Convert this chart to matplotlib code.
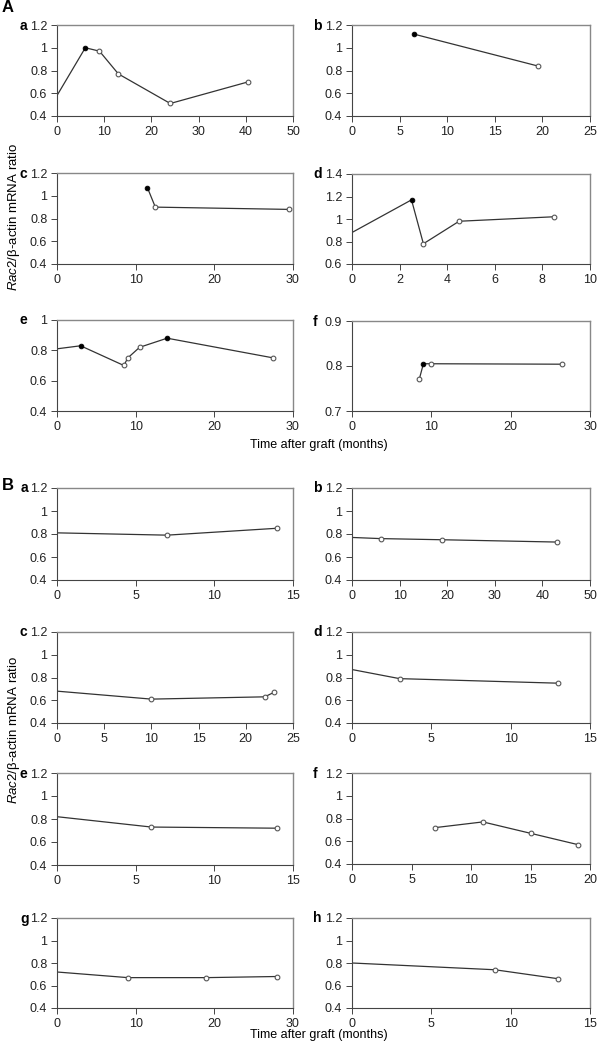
import matplotlib
matplotlib.use('Agg')
import matplotlib.pyplot as plt

plt.rcParams['font.family'] = ['Liberation Sans', 'DejaVu Sans']
plt.rcParams['font.size'] = 9
plt.rcParams['mathtext.fontset'] = 'custom'
plt.rcParams['mathtext.it'] = 'Liberation Sans:italic'
plt.rcParams['mathtext.rm'] = 'Liberation Sans'

W, H = 599, 1049

# ---- data ----
# panel A: filled = black markers; the point at x=0 is drawn without a marker
A_a_x = [0, 6, 9, 13, 24, 40.5]
A_a_y = [0.58, 1.0, 0.97, 0.77, 0.51, 0.70]
A_a_filled = [6]

A_b_x = [6.5, 19.5]
A_b_y = [1.12, 0.84]
A_b_filled = [6.5]

A_c_x = [11.5, 12.5, 29.5]
A_c_y = [1.07, 0.90, 0.88]
A_c_filled = [11.5]

A_d_x = [0, 2.5, 3, 4.5, 8.5]
A_d_y = [0.88, 1.17, 0.78, 0.98, 1.02]
A_d_filled = [2.5]

A_e_x = [0, 3, 8.5, 9, 10.5, 14, 27.5]
A_e_y = [0.81, 0.83, 0.70, 0.75, 0.82, 0.88, 0.75]
A_e_filled = [3, 14]

A_f_x = [8.5, 9, 10, 26.5]
A_f_y = [0.772, 0.805, 0.805, 0.804]
A_f_filled = [9]

B_a_x = [0, 7, 14]
B_a_y = [0.81, 0.79, 0.85]
B_b_x = [0, 6, 19, 43]
B_b_y = [0.77, 0.76, 0.75, 0.73]
B_c_x = [0, 10, 22, 23]
B_c_y = [0.68, 0.61, 0.63, 0.67]
B_d_x = [0, 3, 13]
B_d_y = [0.87, 0.79, 0.75]
B_e_x = [0, 6, 14]
B_e_y = [0.82, 0.73, 0.72]
B_f_x = [7, 11, 15, 19]
B_f_y = [0.72, 0.77, 0.67, 0.57]
B_g_x = [0, 9, 19, 28]
B_g_y = [0.72, 0.67, 0.67, 0.68]
B_h_x = [0, 9, 13]
B_h_y = [0.80, 0.74, 0.66]

fig = plt.figure(figsize=(W / 100, H / 100), dpi=100)


def add_ax(x0, y0, x1, y1):
    return fig.add_axes([x0 / W, 1 - y1 / H, (x1 - x0) / W, (y1 - y0) / H])


def fmt(v):
    return ('%.1f' % v).rstrip('0').rstrip('.')


def panel(box, x, y, filled, xlim, xticks, ylim, yticks, letter, lx):
    ax = add_ax(*box)
    ax.plot(x, y, color='#333333', lw=0.9, zorder=2)
    for xi, yi in zip(x, y):
        if xi == 0:
            continue
        if xi in filled:
            ax.plot(xi, yi, 'o', ms=3.4, mfc='black', mec='black', mew=0.6, zorder=3)
        else:
            ax.plot(xi, yi, 'o', ms=3.4, mfc='white', mec='#555555', mew=0.8, zorder=3)
    ax.set_xlim(*xlim)
    ax.set_ylim(*ylim)
    ax.set_xticks(xticks)
    ax.set_xticklabels([fmt(t) for t in xticks])
    ax.set_yticks(yticks)
    ax.set_yticklabels([fmt(t) for t in yticks])
    for s in ['top', 'right']:
        ax.spines[s].set_color('#888888')
        ax.spines[s].set_linewidth(1.0)
    for s in ['left', 'bottom']:
        ax.spines[s].set_color('#444444')
        ax.spines[s].set_linewidth(0.8)
    ax.tick_params(direction='out', length=4, width=0.7, colors='#444444',
                   labelcolor='#222222', labelsize=9, pad=3)
    fig.text(lx / W, 1 - (box[1] + 0.5) / H, letter, fontsize=10, fontweight='bold',
             ha='left', va='center')
    return ax


L = (57, 293)
R = (352, 590)
yl_A = [0.4, 0.6, 0.8, 1.0, 1.2]

# panel A rows
panel((L[0], 25, L[1], 116), A_a_x, A_a_y, A_a_filled, (0, 50), [0, 10, 20, 30, 40, 50],
      (0.4, 1.2), yl_A, 'a', 20)
panel((R[0], 25, R[1], 116), A_b_x, A_b_y, A_b_filled, (0, 25), [0, 5, 10, 15, 20, 25],
      (0.4, 1.2), yl_A, 'b', 313)
panel((L[0], 173, L[1], 264), A_c_x, A_c_y, A_c_filled, (0, 30), [0, 10, 20, 30],
      (0.4, 1.2), yl_A, 'c', 20)
panel((R[0], 174, R[1], 264), A_d_x, A_d_y, A_d_filled, (0, 10), [0, 2, 4, 6, 8, 10],
      (0.6, 1.4), [0.6, 0.8, 1.0, 1.2, 1.4], 'd', 313)
panel((L[0], 320, L[1], 411), A_e_x, A_e_y, A_e_filled, (0, 30), [0, 10, 20, 30],
      (0.4, 1.0), [0.4, 0.6, 0.8, 1.0], 'e', 20)
panel((R[0], 321, R[1], 411), A_f_x, A_f_y, A_f_filled, (0, 30), [0, 10, 20, 30],
      (0.7, 0.9), [0.7, 0.8, 0.9], 'f', 313)

# panel B rows
panel((L[0], 488, L[1], 580), B_a_x, B_a_y, [], (0, 15), [0, 5, 10, 15],
      (0.4, 1.2), yl_A, 'a', 21)
panel((R[0], 488, R[1], 580), B_b_x, B_b_y, [], (0, 50), [0, 10, 20, 30, 40, 50],
      (0.4, 1.2), yl_A, 'b', 313)
panel((L[0], 632, L[1], 723), B_c_x, B_c_y, [], (0, 25), [0, 5, 10, 15, 20, 25],
      (0.4, 1.2), yl_A, 'c', 20)
panel((R[0], 632, R[1], 723), B_d_x, B_d_y, [], (0, 15), [0, 5, 10, 15],
      (0.4, 1.2), yl_A, 'd', 313)
panel((L[0], 773, L[1], 865), B_e_x, B_e_y, [], (0, 15), [0, 5, 10, 15],
      (0.4, 1.2), yl_A, 'e', 20)
panel((R[0], 773, R[1], 864), B_f_x, B_f_y, [], (0, 20), [0, 5, 10, 15, 20],
      (0.4, 1.2), yl_A, 'f', 313)
panel((L[0], 918, L[1], 1008), B_g_x, B_g_y, [], (0, 30), [0, 10, 20, 30],
      (0.4, 1.2), yl_A, 'g', 20)
panel((R[0], 918, R[1], 1008), B_h_x, B_h_y, [], (0, 15), [0, 5, 10, 15],
      (0.4, 1.2), yl_A, 'h', 313)

# section letters
fig.text(2 / W, 1 - 8 / H, 'A', fontsize=12, fontweight='bold', ha='left', va='center')
fig.text(2 / W, 1 - 485 / H, 'B', fontsize=12, fontweight='bold', ha='left', va='center')

# shared axis labels
for yc in (217, 730):
    fig.text(14 / W, 1 - yc / H, r'$\mathit{Rac2}$/β-actin mRNA ratio',
             rotation=90, ha='center', va='center', fontsize=9.5)
for yc in (445, 1035):
    fig.text(319 / W, 1 - yc / H, 'Time after graft (months)', ha='center', va='center',
             fontsize=9)

fig.savefig('out.png', dpi=100)
